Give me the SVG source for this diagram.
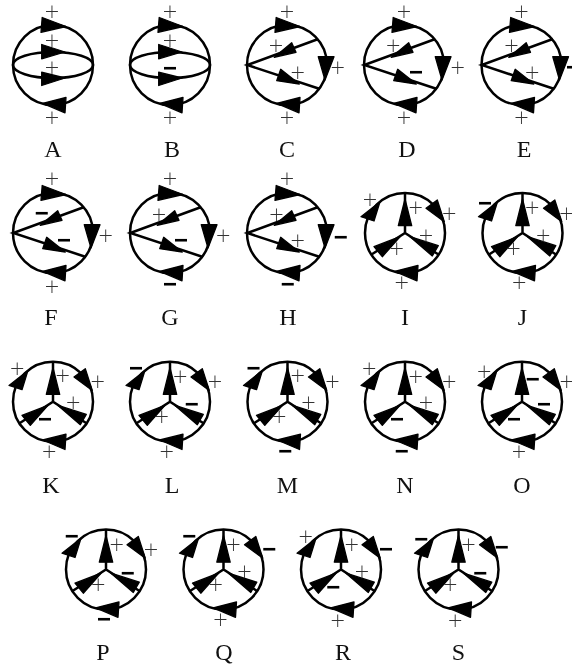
<svg xmlns="http://www.w3.org/2000/svg" width="572" height="669" viewBox="0 0 572 669">
<style>
.l{fill:none;stroke:#000;stroke-width:2.5}
.a{fill:#000;stroke:#000;stroke-width:1.3;stroke-linejoin:round}
text{text-anchor:middle;filter:url(#gray)}
.p{font:200 19px "DejaVu Sans",sans-serif;fill:#333;transform:translateY(6px)}
.m{font:bold 24px "Liberation Sans",sans-serif;fill:#000;transform:translateY(8px)}
.n{font:24px "Liberation Serif",serif;fill:#111}
</style>
<defs>
<filter id="gray" color-interpolation-filters="sRGB"><feOffset dx="0" dy="0"/></filter>
<path id="top" class="a" d="M-10.8-47.5L13-38.5L-12-32.7Z"/>
<path id="bot" class="a" d="M-10.3 38.3L13 32.5L12 47.8Z"/>
<g id="t1">
<circle class="l" r="40"/><ellipse class="l" rx="40" ry="13"/>
<use href="#top"/><use href="#bot"/>
<path class="a" d="M-11.3-20.5L12-13L-11.3-6.2ZM-11.3 7.2L12 13L-11.3 20.5Z"/>
</g>
<g id="t2">
<circle class="l" r="40"/><path class="l" d="M31.3-26L-39.7 0L33 24"/>
<use href="#top"/><use href="#bot"/>
<path class="a" d="M-12.7-7.7L4.7-22.3L9-12.7ZM12.3 19L-6.3 4.3L-10.3 15.7ZM31.3-8.3L47-8.3L38 15Z"/>
</g>
<g id="t3">
<circle class="l" r="40"/><path class="l" d="M0-40V0M-33.5 21.5L0 0L33.5 21.5"/>
<use href="#bot"/>
<path class="a" d="M0-34L-6.7-7.3L6.7-7.3ZM-31 13.7L-22.7 23.7L-5 3.7ZM33.3 12.7L27.3 23L5 3.7ZM-44-16.3L-31-12L-25-31.3ZM21-24.7L32.3-33L39.3-11.3Z"/>
</g>
</defs>
<g id="A" transform="translate(53,65)"><use href="#t1"/><text class="p" x="-1" y="-53.3">+</text><text class="p" x="-1" y="-24.3">+</text><text class="p" x="-1" y="3.3">+</text><text class="p" x="-1" y="53.3">+</text><text class="n" y="92">A</text></g>
<g id="B" transform="translate(170,65)"><use href="#t1"/><text class="p" y="-53.3">+</text><text class="p" y="-24.3">+</text><text class="m" y="3.3">−</text><text class="p" y="53.3">+</text><text class="n" x="2" y="92">B</text></g>
<g id="C" transform="translate(287,65)"><use href="#t2"/><text class="p" y="-53.3">+</text><text class="p" x="-11" y="-19">+</text><text class="p" x="10.7" y="7.7">+</text><text class="p" x="50.7" y="2.7">+</text><text class="p" y="53.3">+</text><text class="n" y="92">C</text></g>
<g id="D" transform="translate(404,65)"><use href="#t2"/><text class="p" y="-53.3">+</text><text class="p" x="-10.7" y="-19">+</text><text class="m" x="12" y="6.7">−</text><text class="p" x="53.7" y="2.7">+</text><text class="p" y="53.3">+</text><text class="n" x="3" y="92">D</text></g>
<g id="E" transform="translate(521.5,65)"><use href="#t2"/><text class="p" y="-53.3">+</text><text class="p" x="-10" y="-19">+</text><text class="p" x="10.7" y="7.7">+</text><text class="m" x="51.5" y="2.3">−</text><text class="p" y="53.3">+</text><text class="n" x="2.5" y="92">E</text></g>
<g id="F" transform="translate(53,233)"><use href="#t2"/><text class="p" x="-1" y="-54">+</text><text class="m" x="-11.3" y="-20.3">−</text><text class="m" x="11" y="7">−</text><text class="p" x="52.7" y="2.7">+</text><text class="p" x="-1" y="53.7">+</text><text class="n" x="-2" y="92">F</text></g>
<g id="G" transform="translate(170,233)"><use href="#t2"/><text class="p" y="-54">+</text><text class="p" x="-11" y="-18">+</text><text class="m" x="11" y="7">−</text><text class="p" x="53.3" y="2.7">+</text><text class="m" y="51.3">−</text><text class="n" y="92">G</text></g>
<g id="H" transform="translate(287,233)"><use href="#t2"/><text class="p" y="-54">+</text><text class="p" x="-10.5" y="-18">+</text><text class="p" x="10.7" y="8">+</text><text class="m" x="53.7" y="3.7">−</text><text class="m" x="0.7" y="51.3">−</text><text class="n" x="1" y="92">H</text></g>
<g id="I" transform="translate(405,233)"><use href="#t3"/><text class="p" x="-35" y="-33">+</text><text class="p" x="10.7" y="-24.7">+</text><text class="p" x="21" y="2.7">+</text><text class="p" x="-8.3" y="16">+</text><text class="p" x="44.3" y="-18.7">+</text><text class="p" x="-3.3" y="50.3">+</text><text class="n" y="92">I</text></g>
<g id="J" transform="translate(522.5,233)"><use href="#t3"/><text class="m" x="-37.5" y="-30.3">−</text><text class="p" x="9.8" y="-24.7">+</text><text class="p" x="20.8" y="2.7">+</text><text class="p" x="-9" y="16">+</text><text class="p" x="44" y="-18.7">+</text><text class="p" x="-3.2" y="50.3">+</text><text class="n" y="92">J</text></g>
<g id="K" transform="translate(53,401.7)"><use href="#t3"/><text class="p" x="-35.7" y="-32.7">+</text><text class="p" x="9.7" y="-25.7">+</text><text class="p" x="20.3" y="1.7">+</text><text class="m" x="-8" y="17.3">−</text><text class="p" x="44.7" y="-19.3">+</text><text class="p" x="-3.7" y="50">+</text><text class="n" x="-2" y="91.5">K</text></g>
<g id="L" transform="translate(170,401.7)"><use href="#t3"/><text class="m" x="-34" y="-34">−</text><text class="p" x="10.3" y="-25">+</text><text class="m" x="21.7" y="2.7">−</text><text class="p" x="-8.3" y="15.7">+</text><text class="p" x="45" y="-19.3">+</text><text class="p" x="-3.3" y="50">+</text><text class="n" x="2" y="91.5">L</text></g>
<g id="M" transform="translate(287.5,401.7)"><use href="#t3"/><text class="m" x="-34" y="-34">−</text><text class="p" x="10.3" y="-25.7">+</text><text class="p" x="21" y="1.7">+</text><text class="p" x="-8.3" y="15.7">+</text><text class="p" x="45" y="-19.3">+</text><text class="m" x="-2.3" y="49">−</text><text class="n" y="91.5">M</text></g>
<g id="N" transform="translate(405,401.7)"><use href="#t3"/><text class="p" x="-35.7" y="-32.7">+</text><text class="p" x="10.7" y="-25">+</text><text class="p" x="21" y="1.7">+</text><text class="m" x="-8" y="17.3">−</text><text class="p" x="44.3" y="-19.3">+</text><text class="m" x="-3.3" y="49">−</text><text class="n" y="91.5">N</text></g>
<g id="O" transform="translate(522,401.7)"><use href="#t3"/><text class="p" x="-37.7" y="-30">+</text><text class="m" x="10.7" y="-22.7">−</text><text class="m" x="22" y="2.7">−</text><text class="m" x="-8" y="17.3">−</text><text class="p" x="44.7" y="-19.3">+</text><text class="p" x="-3" y="50">+</text><text class="n" y="91.5">O</text></g>
<g id="P" transform="translate(106,569.5)"><use href="#t3"/><text class="m" x="-34.3" y="-33.8">−</text><text class="p" x="10.7" y="-24.5">+</text><text class="m" x="21.7" y="3.2">−</text><text class="p" x="-7.7" y="15.5">+</text><text class="p" x="45" y="-19.5">+</text><text class="m" x="-2" y="49.5">−</text><text class="n" x="-3" y="90.5">P</text></g>
<g id="Q" transform="translate(223.5,569.5)"><use href="#t3"/><text class="m" x="-34.3" y="-33.8">−</text><text class="p" x="10" y="-24.5">+</text><text class="p" x="21" y="2.2">+</text><text class="p" x="-7.7" y="15.5">+</text><text class="m" x="45.7" y="-21">−</text><text class="p" x="-3" y="50.5">+</text><text class="n" x="0.5" y="90.5">Q</text></g>
<g id="R" transform="translate(341,569.5)"><use href="#t3"/><text class="p" x="-35.3" y="-33">+</text><text class="p" x="10.7" y="-24.5">+</text><text class="p" x="21" y="2.7">+</text><text class="m" x="-7.7" y="17.2">−</text><text class="m" x="45" y="-21">−</text><text class="p" x="-3.3" y="51">+</text><text class="n" x="2" y="90.5">R</text></g>
<g id="S" transform="translate(458.5,569.5)"><use href="#t3"/><text class="m" x="-37.3" y="-31">−</text><text class="p" x="10" y="-24.5">+</text><text class="m" x="21.7" y="3.2">−</text><text class="p" x="-8.3" y="15.5">+</text><text class="m" x="43.3" y="-22.8">−</text><text class="p" x="-3.3" y="51">+</text><text class="n" y="90.5">S</text></g>
</svg>
